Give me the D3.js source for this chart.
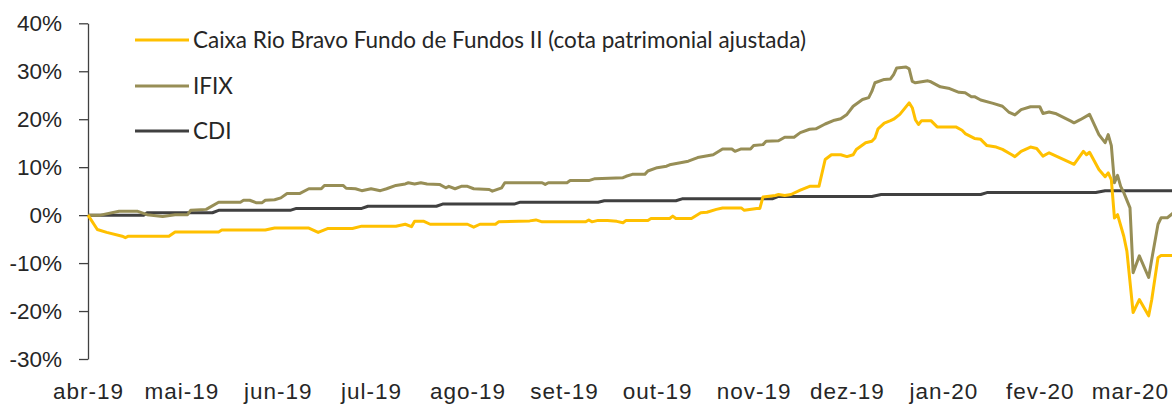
<!DOCTYPE html>
<meta charset="utf-8">
<head>
<style>
  body { margin: 0; background: #fff; }
  svg { display: block; font-family: Lato, "Open Sans", sans-serif; }
  .axis text { font-size: 22.5px; fill: #262626; }
  .xaxis text { letter-spacing: 1px; }
  .axis path, .axis line { stroke: #404040; stroke-width: 1.3; fill: none; }
  .legend text { font-size: 22.5px; fill: #262626; }
</style>
</head>
<body>
<script src="https://cdnjs.cloudflare.com/ajax/libs/d3/7.8.5/d3.min.js"></script>
<script>

// Caixa Rio Bravo Fundo de Fundos II, accumulated return (%)
const fund = [
  ["2019-04-01", 0], ["2019-04-04", -3.0], ["2019-04-07", -3.6], ["2019-04-12", -4.4],
  ["2019-04-13", -4.7], ["2019-04-14", -4.4], ["2019-04-27", -4.4], ["2019-04-29", -3.5],
  ["2019-05-13", -3.5], ["2019-05-14", -3.1], ["2019-05-28", -3.1], ["2019-05-31", -2.7],
  ["2019-06-11", -2.7], ["2019-06-14", -3.6], ["2019-06-17", -2.8], ["2019-06-25", -2.8],
  ["2019-06-28", -2.3], ["2019-07-09", -2.3], ["2019-07-12", -1.9], ["2019-07-14", -2.4],
  ["2019-07-15", -1.3], ["2019-07-18", -1.3], ["2019-07-20", -1.9], ["2019-08-01", -1.9],
  ["2019-08-03", -2.5], ["2019-08-05", -1.9], ["2019-08-10", -1.9], ["2019-08-11", -1.4],
  ["2019-08-21", -1.2], ["2019-08-23", -1.0], ["2019-08-25", -1.4], ["2019-09-08", -1.4],
  ["2019-09-09", -1.0], ["2019-09-10", -1.4], ["2019-09-12", -1.1], ["2019-09-15", -1.1],
  ["2019-09-18", -1.3], ["2019-09-20", -1.6], ["2019-09-21", -1.1], ["2019-09-28", -1.1],
  ["2019-09-29", -0.7], ["2019-10-05", -0.7], ["2019-10-06", -0.2], ["2019-10-07", -0.7],
  ["2019-10-12", -0.7], ["2019-10-15", 0.5], ["2019-10-17", 0.6], ["2019-10-20", 1.2],
  ["2019-10-22", 1.5], ["2019-10-28", 1.5], ["2019-10-29", 1.0], ["2019-11-02", 1.4],
  ["2019-11-03", 1.4], ["2019-11-04", 3.8], ["2019-11-08", 4.1], ["2019-11-09", 4.3],
  ["2019-11-11", 4.1], ["2019-11-13", 4.3], ["2019-11-16", 5.2], ["2019-11-19", 6.0],
  ["2019-11-22", 6.0], ["2019-11-24", 11.6], ["2019-11-26", 12.6], ["2019-11-29", 12.6],
  ["2019-12-01", 12.2], ["2019-12-03", 12.6], ["2019-12-04", 13.7], ["2019-12-07", 15.1],
  ["2019-12-09", 15.4], ["2019-12-10", 16.1], ["2019-12-11", 18.0], ["2019-12-13", 19.2],
  ["2019-12-15", 19.7], ["2019-12-16", 20.0], ["2019-12-18", 21.0], ["2019-12-21", 23.4],
  ["2019-12-22", 22.4], ["2019-12-23", 19.9], ["2019-12-24", 18.9], ["2019-12-25", 19.7],
  ["2019-12-28", 19.7], ["2019-12-30", 18.4], ["2020-01-05", 18.4], ["2020-01-07", 17.7],
  ["2020-01-08", 17.0], ["2020-01-11", 16.0], ["2020-01-13", 15.8], ["2020-01-15", 14.5],
  ["2020-01-18", 14.2], ["2020-01-20", 13.7], ["2020-01-23", 12.6], ["2020-01-24", 12.2],
  ["2020-01-26", 13.3], ["2020-01-29", 14.2], ["2020-01-31", 13.9], ["2020-02-02", 12.3],
  ["2020-02-04", 13.0], ["2020-02-11", 10.9], ["2020-02-12", 10.6], ["2020-02-15", 13.3],
  ["2020-02-16", 12.6], ["2020-02-17", 13.1], ["2020-02-20", 9.5], ["2020-02-22", 8.0],
  ["2020-02-23", 8.8], ["2020-02-24", 7.4], ["2020-02-25", -0.6], ["2020-02-26", 0.1],
  ["2020-02-28", -4.4], ["2020-02-29", -7.5], ["2020-03-02", -20.3], ["2020-03-04", -17.6],
  ["2020-03-07", -21.0], ["2020-03-08", -17.6], ["2020-03-10", -8.9], ["2020-03-11", -8.4],
  ["2020-03-15", -8.4]
];

// IFIX, accumulated return (%)
const ifix = [
  ["2019-04-01", 0], ["2019-04-05", 0], ["2019-04-11", 0.8], ["2019-04-17", 0.8],
  ["2019-04-20", 0.1], ["2019-04-25", -0.3], ["2019-04-29", 0.1], ["2019-05-03", 0.1],
  ["2019-05-04", 1.0], ["2019-05-09", 1.2], ["2019-05-13", 2.7], ["2019-05-20", 2.7],
  ["2019-05-21", 3.1], ["2019-05-23", 3.1], ["2019-05-25", 2.6], ["2019-05-27", 2.6],
  ["2019-05-28", 3.1], ["2019-05-31", 3.2], ["2019-06-02", 3.6], ["2019-06-04", 4.5],
  ["2019-06-08", 4.5], ["2019-06-11", 5.5], ["2019-06-15", 5.5], ["2019-06-16", 6.2],
  ["2019-06-22", 6.2], ["2019-06-23", 5.6], ["2019-06-26", 5.5], ["2019-06-28", 5.1],
  ["2019-07-01", 5.5], ["2019-07-04", 5.1], ["2019-07-06", 5.5], ["2019-07-09", 6.2],
  ["2019-07-12", 6.5], ["2019-07-13", 6.75], ["2019-07-15", 6.5], ["2019-07-17", 6.75],
  ["2019-07-19", 6.5], ["2019-07-23", 6.4], ["2019-07-25", 5.7], ["2019-07-26", 6.0],
  ["2019-07-28", 5.5], ["2019-07-30", 6.0], ["2019-08-01", 6.0], ["2019-08-03", 5.5],
  ["2019-08-08", 5.35], ["2019-08-09", 5.0], ["2019-08-12", 5.7], ["2019-08-13", 6.75],
  ["2019-08-25", 6.75], ["2019-08-26", 6.4], ["2019-08-27", 6.75], ["2019-09-02", 6.75],
  ["2019-09-03", 7.2], ["2019-09-09", 7.2], ["2019-09-11", 7.6], ["2019-09-20", 7.8],
  ["2019-09-21", 8.1], ["2019-09-23", 8.5], ["2019-09-27", 8.5], ["2019-09-28", 9.2],
  ["2019-10-01", 9.9], ["2019-10-04", 10.2], ["2019-10-05", 10.5], ["2019-10-11", 11.25],
  ["2019-10-14", 12.0], ["2019-10-19", 12.6], ["2019-10-22", 13.8], ["2019-10-25", 13.8],
  ["2019-10-26", 13.3], ["2019-10-28", 13.8], ["2019-10-31", 13.8], ["2019-11-01", 14.5],
  ["2019-11-04", 14.7], ["2019-11-05", 15.4], ["2019-11-09", 15.5], ["2019-11-11", 16.25],
  ["2019-11-14", 16.25], ["2019-11-16", 17.2], ["2019-11-19", 17.9], ["2019-11-21", 18.0],
  ["2019-11-24", 19.0], ["2019-11-27", 19.8], ["2019-11-29", 20.1], ["2019-12-01", 21.0],
  ["2019-12-03", 22.7], ["2019-12-06", 24.1], ["2019-12-08", 24.5], ["2019-12-09", 25.8],
  ["2019-12-10", 27.6], ["2019-12-13", 28.3], ["2019-12-15", 28.4], ["2019-12-16", 29.3],
  ["2019-12-17", 30.7], ["2019-12-20", 30.9], ["2019-12-21", 30.5], ["2019-12-22", 27.9],
  ["2019-12-23", 27.6], ["2019-12-27", 28.0], ["2019-12-28", 27.8], ["2019-12-31", 26.75],
  ["2020-01-03", 26.4], ["2020-01-06", 25.6], ["2020-01-08", 25.5], ["2020-01-10", 24.7],
  ["2020-01-11", 24.7], ["2020-01-13", 24.0], ["2020-01-17", 23.3], ["2020-01-20", 22.7],
  ["2020-01-22", 21.5], ["2020-01-24", 20.9], ["2020-01-26", 22.0], ["2020-01-29", 22.6],
  ["2020-02-01", 22.6], ["2020-02-02", 21.2], ["2020-02-04", 21.5], ["2020-02-06", 21.2],
  ["2020-02-11", 19.6], ["2020-02-12", 19.25], ["2020-02-14", 19.9], ["2020-02-17", 21.0],
  ["2020-02-18", 19.6], ["2020-02-20", 16.8], ["2020-02-22", 15.1], ["2020-02-23", 16.8],
  ["2020-02-24", 14.5], ["2020-02-25", 6.75], ["2020-02-26", 8.3], ["2020-02-27", 6.0],
  ["2020-02-28", 4.7], ["2020-03-01", 1.5], ["2020-03-02", -12.0], ["2020-03-04", -8.5],
  ["2020-03-07", -13.0], ["2020-03-08", -9.2], ["2020-03-10", -1.9], ["2020-03-11", -0.55],
  ["2020-03-13", -0.55], ["2020-03-15", 0.5]
];

// CDI, accumulated return (%)
const cdi = [
  ["2019-04-01", 0], ["2019-04-19", 0], ["2019-04-20", 0.5], ["2019-05-11", 0.5],
  ["2019-05-13", 1.0], ["2019-06-05", 1.0], ["2019-06-07", 1.4], ["2019-06-28", 1.4],
  ["2019-06-30", 1.85], ["2019-07-22", 1.85], ["2019-07-24", 2.3], ["2019-08-16", 2.3],
  ["2019-08-18", 2.7], ["2019-09-12", 2.7], ["2019-09-14", 3.0], ["2019-10-07", 3.0],
  ["2019-10-09", 3.4], ["2019-11-07", 3.4], ["2019-11-09", 3.9], ["2019-12-09", 3.9],
  ["2019-12-12", 4.3], ["2020-01-13", 4.3], ["2020-01-15", 4.7], ["2020-02-19", 4.7],
  ["2020-02-22", 5.1], ["2020-03-15", 5.1]
];

const yTicks = [-30, -20, -10, 0, 10, 20, 30, 40];
const monthTicks = ["2019-04-01", "2019-05-01", "2019-06-01", "2019-07-01", "2019-08-01", "2019-09-01",
  "2019-10-01", "2019-11-01", "2019-12-01", "2020-01-01", "2020-02-01", "2020-03-01"];
const monthLabels = ["abr-19", "mai-19", "jun-19", "jul-19", "ago-19", "set-19",
  "out-19", "nov-19", "dez-19", "jan-20", "fev-20", "mar-20"];

const series = [
  {name: "CDI", data: cdi, color: "#404040"},
  {name: "IFIX", data: ifix, color: "#978E56"},
  {name: "Caixa Rio Bravo Fundo de Fundos II (cota patrimonial ajustada)", data: fund, color: "#FFC000"}
];
const legendOrder = [2, 1, 0];

const width = 1172, height = 408;
const parse = d3.utcParse("%Y-%m-%d");

const x = d3.scaleUtc()
  .domain([parse("2019-04-01"), parse("2020-03-01")])
  .range([88, 1130]);
const y = d3.scaleLinear().domain([-30, 40]).range([359, 23.3]);

const svg = d3.select("body").append("svg")
  .attr("width", width)
  .attr("height", height);

// y axis
svg.append("g")
  .attr("class", "axis")
  .attr("transform", "translate(88,0)")
  .call(d3.axisLeft(y).tickValues(yTicks).tickSize(9).tickPadding(17).tickSizeOuter(0)
    .tickFormat(d => d + "%"));

// x labels (no axis line in the original)
const xAxis = svg.append("g")
  .attr("class", "axis xaxis")
  .attr("transform", "translate(0,378)")
  .call(d3.axisBottom(x)
    .tickValues(monthTicks.map(parse))
    .tickFormat((d, i) => monthLabels[i])
    .tickSize(0).tickPadding(5));
xAxis.select(".domain").remove();

const line = d3.line()
  .x(d => x(parse(d[0])))
  .y(d => y(d[1]));

svg.append("g")
  .selectAll("path")
  .data(series)
  .join("path")
    .attr("fill", "none")
    .attr("stroke", d => d.color)
    .attr("stroke-width", 3)
    .attr("stroke-linejoin", "round")
    .attr("d", d => line(d.data));

// legend
const legendRows = [40, 86, 131];
const legend = svg.append("g").attr("class", "legend");
legendOrder.forEach((si, i) => {
  const s = series[si];
  legend.append("line")
    .attr("x1", 135).attr("x2", 189)
    .attr("y1", legendRows[i]).attr("y2", legendRows[i])
    .attr("stroke", s.color).attr("stroke-width", 3);
  legend.append("text")
    .attr("x", 193).attr("y", legendRows[i])
    .attr("dy", "0.35em")
    .text(s.name);
});

</script>
</body>
